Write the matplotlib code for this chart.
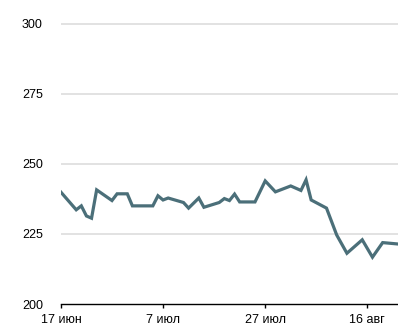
import datetime as dt
import matplotlib
matplotlib.use("Agg")
import matplotlib.pyplot as plt
import matplotlib.dates as mdates

plt.rcParams['font.family'] = ['Liberation Sans', 'DejaVu Sans']

# data: day offsets from 17 June and values
start = dt.date(2019, 6, 17)
day_offsets = [0, 3, 4, 5, 6, 7, 10, 11, 13, 14, 18, 19, 20, 21, 24, 25, 27, 28,
               31, 32, 33, 34, 35, 38, 40, 42, 45, 47, 48, 49, 52, 54, 56, 59,
               61, 63, 66]
values = [239.9, 233.6, 235.0, 231.4, 230.6, 240.7, 236.9, 239.3, 239.3, 235.0,
          235.0, 238.6, 237.1, 237.8, 236.2, 234.2, 237.8, 234.5, 236.2, 237.6,
          236.9, 239.2, 236.4, 236.4, 243.9, 240.0, 242.1, 240.5, 244.3, 237.1,
          234.2, 224.6, 218.1, 222.9, 216.7, 221.9, 221.4]
dates = [start + dt.timedelta(days=d) for d in day_offsets]

tick_dates = [dt.date(2019, 6, 17), dt.date(2019, 7, 7), dt.date(2019, 7, 27), dt.date(2019, 8, 16)]
tick_labels = ["17 июн", "7 июл", "27 июл", "16 авг"]
y_ticks = [200, 225, 250, 275, 300]

fig = plt.figure(figsize=(3.98, 3.25), dpi=100)
ax = fig.add_axes([0.153, 0.0646, 0.847, 0.880])

ax.plot(dates, values, color="#4b6f79", linewidth=2.3, solid_joinstyle="miter")

ax.set_ylim(200, 302)
ax.set_xlim(dates[0], dates[-1])
ax.set_yticks(y_ticks)
ax.set_xticks(tick_dates)
ax.set_xticklabels(tick_labels)

for y in y_ticks[1:]:
    ax.axhline(y, color="#dddddd", linewidth=1.2, zorder=0)

for s in ["left", "right", "top"]:
    ax.spines[s].set_visible(False)
ax.spines["bottom"].set_color("black")
ax.spines["bottom"].set_linewidth(1.0)

ax.tick_params(axis="y", length=0, pad=13, labelsize=9)
ax.tick_params(axis="x", length=3, width=1, pad=4, labelsize=9, direction="out")

fig.savefig("out.png", dpi=100)
